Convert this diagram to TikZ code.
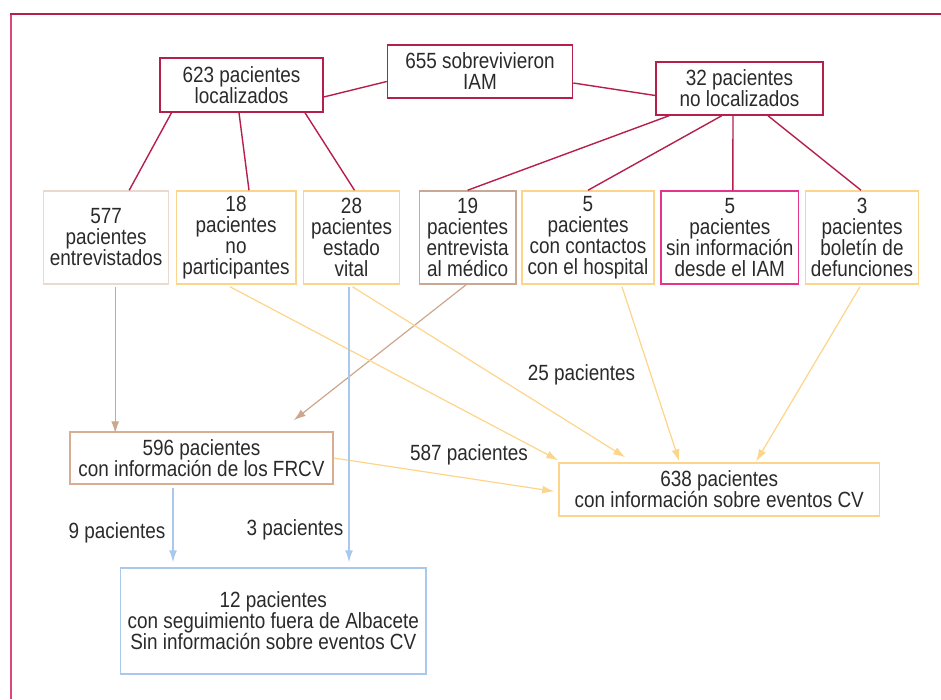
\documentclass[tikz,border=0pt]{standalone}
\usepackage{fontspec}
\setmainfont[FakeStretch=0.86]{Liberation Sans}
\usetikzlibrary{arrows.meta}
\definecolor{crim}{HTML}{B51F4B}
\definecolor{framepink}{HTML}{D94877}
\definecolor{magbox}{HTML}{E5348C}
\definecolor{tanlight}{HTML}{E9D9CF}
\definecolor{tanmid}{HTML}{C9A996}
\definecolor{tanbox}{HTML}{D7AE94}
\definecolor{tanline}{HTML}{CDA68E}
\definecolor{orng}{HTML}{FDD58A}
\definecolor{blu}{HTML}{A9C9EC}
\definecolor{txt}{HTML}{2A2A2A}
\tikzset{
  box/.style={draw, line width=1.5pt, inner sep=0pt, align=center, text=txt,
    font=\fontsize{22}{21}\selectfont},
  lbl/.style={inner sep=0pt, text=txt, font=\fontsize{22}{21}\selectfont},
  cline/.style={draw=crim, line width=1.4pt},
  arr/.style={line width=1.2pt, -{Latex[length=12pt,width=8pt]}},
}
\begin{document}
\begin{tikzpicture}[x=1pt,y=-1pt]
\useasboundingbox (0,0) rectangle (941,699);
% frame
\draw[framepink, line width=2pt] (11,13) -- (11,699);
\draw[crim, line width=2pt] (10,14) -- (941,14);

% top row
\node[box, draw=crim, minimum width=185pt, minimum height=53pt] (sob) at (480,71.5) {655 sobrevivieron\\IAM};
\node[box, draw=crim, minimum width=163pt, minimum height=54pt] (loc) at (241.5,85) {623 pacientes\\localizados};
\node[box, draw=crim, minimum width=167pt, minimum height=53pt] (nol) at (739.5,88.5) {32 pacientes\\no localizados};

% second row
\node[box, draw=tanlight, minimum width=125pt, minimum height=93pt] (e577) at (106.2,237.5) {577\\pacientes\\entrevistados};
\node[box, draw=orng, minimum width=119.5pt, minimum height=93pt] (e18) at (236,237.5) {18\\pacientes\\no\\participantes};
\node[box, draw=orng, minimum width=96pt, minimum height=93pt] (e28) at (351.5,237.5) {28\\pacientes\\estado\\vital};
\node[box, draw=tanmid, minimum width=96.5pt, minimum height=93pt] (e19) at (467.6,237.5) {19\\pacientes\\entrevista\\al médico};
\node[box, draw=orng, minimum width=132pt, minimum height=93pt] (e5a) at (588,237.5) {5\\pacientes\\con contactos\\con el hospital};
\node[box, draw=magbox, minimum width=137.5pt, minimum height=93pt] (e5b) at (729.8,237.5) {5\\pacientes\\sin información\\desde el IAM};
\node[box, draw=orng, minimum width=113pt, minimum height=93pt] (e3) at (862,237.5) {3\\pacientes\\boletín de\\defunciones};

% lower boxes
\node[box, draw=tanbox, minimum width=263pt, minimum height=52pt] (frc) at (201.5,458) {596 pacientes\\con información de los FRCV};
\node[box, draw=orng, minimum width=320.5pt, minimum height=53pt] (cv) at (719.25,489.5) {638 pacientes\\con información sobre eventos CV};
\node[box, draw=blu, minimum width=305.5pt, minimum height=106pt] (fuera) at (273.3,621) {12 pacientes\\con seguimiento fuera de Albacete\\Sin información sobre eventos CV};

% labels
\node[lbl] (l25) at (581.5,375) {25 pacientes};
\node[lbl] (l587) at (469,455) {587 pacientes};
\node[lbl] (l9) at (117,533) {9 pacientes};
\node[lbl] (l3) at (295,530) {3 pacientes};

% crimson connectors
\draw[cline] ([yshift=-12pt]loc.east) -- ([yshift=-10pt]sob.west);
\draw[cline] ([yshift=-11.5pt]sob.east) -- ([yshift=-7pt]nol.west);
\draw[cline] ([xshift=-70pt]loc.south) -- ([xshift=23pt]e577.north);
\draw[cline] ([xshift=-2.5pt]loc.south) -- ([xshift=13pt]e18.north);
\draw[cline] ([xshift=63.5pt]loc.south) -- ([xshift=3pt]e28.north);
\draw[cline] ([xshift=-70.5pt]nol.south) -- (e19.north);
\draw[cline] ([xshift=-17.8pt]nol.south) -- (e5a.north);
\draw[cline] ([xshift=-6.5pt]nol.south) -- ([xshift=3pt]e5b.north);
\draw[cline] ([xshift=28.5pt]nol.south) -- ([xshift=-1pt]e3.north);

% tan arrows
\draw[arr, tanline] ([xshift=9pt, yshift=-2pt]e577.south) -- ([xshift=9pt, yshift=-2pt]e577.south |- frc.north);
\draw[arr, tanline] ([xshift=-1.5pt]e19.south) -- ([xshift=-40pt, yshift=11pt]frc.north east);

% orange arrows
\draw[arr, orng] ([xshift=-6pt, yshift=-2pt]e18.south) -- ([yshift=2pt]cv.north west);
\draw[arr, orng] ([xshift=1pt, yshift=-2pt]e28.south) -- ([xshift=-94pt, yshift=5pt]cv.north);
\draw[arr, orng] ([xshift=34pt, yshift=-2pt]e5a.south) -- ([xshift=-40pt, yshift=1pt]cv.north);
\draw[arr, orng] ([xshift=-2pt, yshift=-2pt]e3.south) -- ([xshift=37pt, yshift=1pt]cv.north);
\draw[arr, orng, shorten >=4pt] (frc.east) -- ([yshift=-2.5pt]cv.west);

% blue arrows
\draw[arr, blu, shorten >=5pt] ([xshift=-2.5pt, yshift=-2pt]e28.south) -- ([xshift=-2.5pt]e28.south |- fuera.north);
\draw[arr, blu, shorten >=5pt] ([xshift=-28.5pt, yshift=-3pt]frc.south) -- ([xshift=-28.5pt]frc.south |- fuera.north);
\end{tikzpicture}
\end{document}
